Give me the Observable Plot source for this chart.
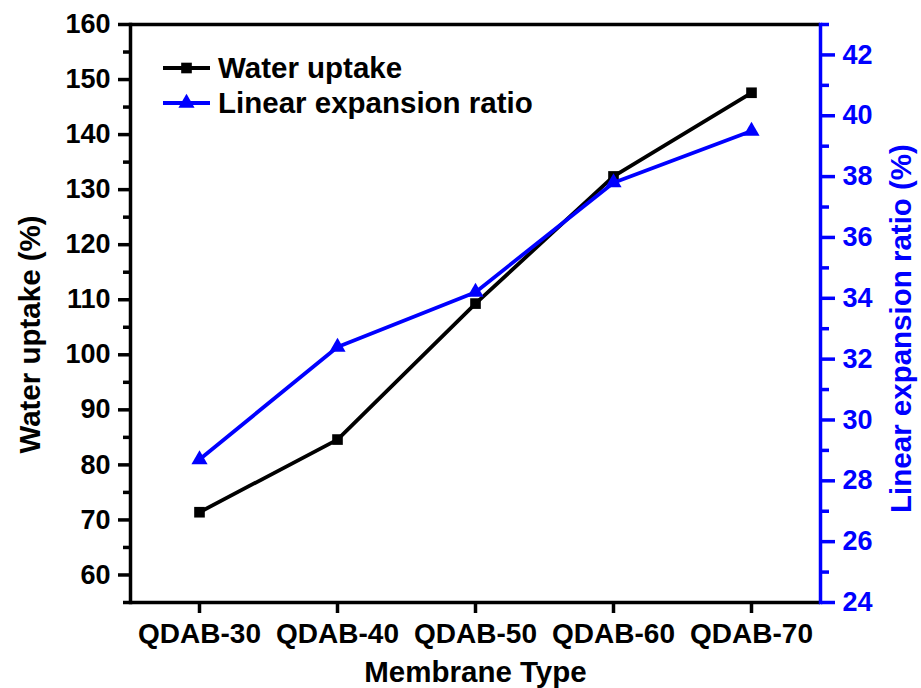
<!DOCTYPE html>
<html><head><meta charset="utf-8">
<script src="https://cdn.jsdelivr.net/npm/d3@7"></script>
<script src="https://cdn.jsdelivr.net/npm/@observablehq/plot@0.6"></script>
<style>
body{margin:0;background:#fff}
#wrap{position:relative;width:921px;height:688px;background:#fff}
#wrap svg{font-family:"Liberation Sans",Arial,sans-serif;font-weight:bold}
.legend{position:absolute;left:163px;top:50px;font:bold 29.5px "Liberation Sans",Arial,sans-serif;color:#000}
.row{display:flex;align-items:center;height:35px;white-space:nowrap}
.row svg{margin-right:8px}
</style></head><body><div id="wrap"></div><script>
const categories = ["QDAB-30","QDAB-40","QDAB-50","QDAB-60","QDAB-70"];
const waterUptake = [71.4, 84.6, 109.3, 132.4, 147.6];
const linearExpansion = [28.7, 32.4, 34.2, 37.8, 39.5];
const leftTicks = [60,70,80,90,100,110,120,130,140,150,160];
const leftMinor = [55,65,75,85,95,105,115,125,135,145,155];
const rightTicks = [24,26,28,30,32,34,36,38,40,42];
const rightMinor = [25,27,29,31,33,35,37,39,41,43];
const leftDomain = [55,160];
const rightDomain = [24,43];
const seriesNames = ["Water uptake","Linear expansion ratio"];

const toLeft = v => leftDomain[0] + (v - rightDomain[0]) * (leftDomain[1]-leftDomain[0])/(rightDomain[1]-rightDomain[0]);
const fromLeft = v => rightDomain[0] + (v - leftDomain[0]) * (rightDomain[1]-rightDomain[0])/(leftDomain[1]-leftDomain[0]);

const rows = categories.map((c,i)=>({type:c, water:waterUptake[i], linear:linearExpansion[i]}));
const BLUE = "#0000ff";
const AW = 3.5;

const chart = Plot.plot({
  width: 921, height: 688,
  marginLeft: 130, marginRight: 101, marginTop: 24, marginBottom: 86,
  style: {background:"#fff", fontFamily:'"Liberation Sans",Arial,sans-serif', fontWeight:"bold"},
  x: {type:"point", domain: categories, padding: 0.5},
  y: {domain: leftDomain},
  marks: [
    Plot.axisX({ticks: categories, tickSize: 11, tickPadding: 10, strokeWidth: AW, fontSize: 28, fill:"#000", label: null}),
    Plot.axisY({anchor:"left", ticks: leftTicks, tickSize: 12, tickPadding: 8, strokeWidth: AW, fontSize: 27, fill:"#000", label: null}),
    Plot.axisY({anchor:"left", ticks: leftMinor, tickSize: 7, strokeWidth: AW, text: null, label: null}),
    Plot.axisY({anchor:"right", ticks: rightTicks.map(toLeft), tickFormat: d => String(Math.round(fromLeft(d))), tickSize: 14, tickPadding: 8, strokeWidth: AW, fontSize: 27, color: BLUE, label: null}),
    Plot.axisY({anchor:"right", ticks: rightMinor.map(toLeft), tickSize: 8, strokeWidth: AW, stroke: BLUE, text: null, label: null}),
    Plot.ruleY([leftDomain[0], leftDomain[1]], {stroke:"#000", strokeWidth: AW}),
    Plot.frame({anchor:"left", stroke:"#000", strokeWidth: AW}),
    Plot.frame({anchor:"right", stroke: BLUE, strokeWidth: AW}),
    Plot.lineY(rows, {x:"type", y:"water", stroke:"#000", strokeWidth: 3.8}),
    Plot.dot(rows, {x:"type", y:"water", symbol:"square", r: 6, fill:"#000", stroke:null}),
    Plot.lineY(rows, {x:"type", y: d => toLeft(d.linear), stroke: BLUE, strokeWidth: 3.8}),
    Plot.dot(rows, {x:"type", y: d => toLeft(d.linear), symbol:"triangle", r: 6, fill: BLUE, stroke:null}),
    Plot.text(["Water uptake (%)"], {frameAnchor:"left", rotate:-90, dx:-100, dy:21, fontSize: 29.5, fontWeight:"bold", fill:"#000", textAnchor:"middle", lineAnchor:"middle"}),
    Plot.text(["Linear expansion ratio (%)"], {frameAnchor:"right", rotate:-90, dx:81, dy:15, fontSize: 29.5, fontWeight:"bold", fill: BLUE, textAnchor:"middle", lineAnchor:"middle"}),
    Plot.text(["Membrane Type"], {frameAnchor:"bottom", dy:70, fontSize: 29.5, fontWeight:"bold", fill:"#000", textAnchor:"middle", lineAnchor:"middle"})
  ]
});
const wrap = document.getElementById("wrap");
wrap.appendChild(chart);

const legend = document.createElement("div");
legend.className = "legend";
const sw = (color, shape) => {
  const s = d3.create("svg").attr("width",47).attr("height",20);
  s.append("line").attr("x1",0).attr("x2",47).attr("y1",10).attr("y2",10).attr("stroke",color).attr("stroke-width",3.8);
  s.append("path").attr("transform","translate(23.5,10)").attr("fill",color)
    .attr("d", d3.symbol(shape === "square" ? d3.symbolSquare : d3.symbolTriangle, Math.PI*6*6)());
  return s.node();
};
[[seriesNames[0],"#000","square"],[seriesNames[1],BLUE,"triangle"]].forEach(([name,color,shape])=>{
  const r = document.createElement("div"); r.className="row";
  r.appendChild(sw(color,shape));
  const t = document.createElement("span"); t.textContent = name; r.appendChild(t);
  legend.appendChild(r);
});
wrap.appendChild(legend);
</script></body></html>
